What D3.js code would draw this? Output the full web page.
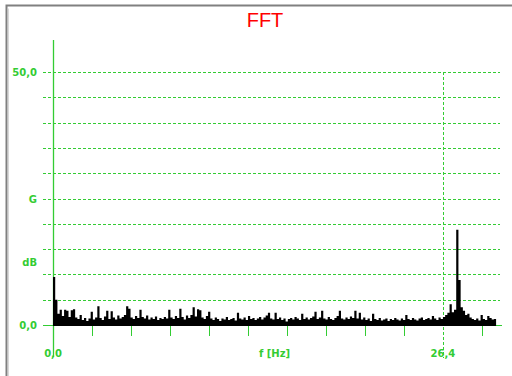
<!DOCTYPE html>
<html>
<head>
<meta charset="utf-8">
<script src="https://cdn.jsdelivr.net/npm/d3@7"></script>
<style>
  body { margin: 0; background: #fff; }
  svg { display: block; }
  .lbl { font-family: "DejaVu Sans", sans-serif; font-size: 10px; font-weight: bold; fill: #33cc33; }
</style>
</head>
<body>
<svg id="chart" width="512" height="376"></svg>
<script>
// spectrum, one value per 0.15 Hz bin, starting at 0 Hz
const binWidth = 0.15;
const amplitudes = [
  9.5, 5.0, 2.2, 3.0, 1.8, 3.0, 2.8, 1.6, 2.9, 3.1,
  1.5, 1.2, 2.0, 1.0, 1.4, 0.8, 1.3, 2.6, 1.1, 1.5,
  3.7, 1.4, 1.0, 1.7, 2.8, 1.2, 2.7, 1.5, 1.1, 1.9,
  1.3, 1.6, 2.0, 3.7, 3.2, 1.5, 1.2, 1.8, 1.4, 3.0,
  1.6, 1.3, 1.9, 1.1, 1.5, 1.2, 1.7, 1.0, 1.4, 1.2,
  1.6, 1.3, 3.0, 1.5, 1.2, 1.8, 1.4, 3.2, 1.6, 1.1,
  1.9, 1.4, 2.0, 3.5, 1.7, 3.1, 2.9, 1.5, 1.2, 1.8,
  2.6, 1.3, 1.0, 1.5, 1.2, 0.8, 1.3, 1.1, 1.6, 1.0,
  1.2, 1.4, 0.9, 2.4, 1.3, 1.1, 1.5, 1.0, 1.8, 1.2,
  1.4, 1.0, 1.3, 1.6, 1.1, 1.5, 1.9, 2.4, 1.3, 1.1,
  2.4, 1.2, 1.5, 1.0, 1.3, 0.7, 1.2, 1.4, 1.1, 1.6,
  1.3, 1.0, 2.2, 1.2, 1.5, 1.1, 1.4, 1.7, 2.6, 1.2,
  1.5, 2.8, 1.3, 1.1, 1.6, 1.2, 1.0, 1.4, 1.8, 2.8,
  1.3, 1.1, 1.5, 1.2, 1.7, 1.4, 2.8, 1.3, 2.4, 1.1,
  1.5, 1.0, 1.3, 0.8, 2.2, 1.2, 1.0, 1.4, 0.9, 1.1,
  1.3, 0.8, 1.2, 1.0, 1.4, 1.1, 0.9, 1.3, 1.0, 2.0,
  1.2, 1.0, 1.4, 1.1, 0.9, 1.3, 1.5, 1.0, 1.2, 1.4,
  1.1, 1.8, 1.3, 1.0, 1.5, 1.2, 1.6, 2.0, 2.4, 4.1,
  2.5, 3.0, 18.8, 8.9, 3.5, 2.8, 2.0, 2.2, 1.5, 1.2,
  1.0, 1.3, 0.9, 2.0, 1.2, 1.0, 1.8, 1.4, 1.1, 1.2,
  0.9
];
const gridValues = [5, 10, 15, 20, 25, 30, 35, 40, 45, 50];
const freqTicks = [0, 2.64, 5.28, 7.92, 10.56, 13.2, 15.84, 18.48, 21.12, 23.76, 26.4, 29.04];
const markerFreq = 26.4;
const yLabels = [{ text: '50,0', v: 50 }, { text: 'G', v: 25 }, { text: 'dB', v: 12.5 }, { text: '0,0', v: 0 }];

const green = '#33cc33';
const svg = d3.select('#chart');

const x = d3.scaleLinear().domain([0, 30.4]).range([53, 502]);
const y = d3.scaleLinear().domain([0, 50]).range([325, 72]);

// sunken frame
svg.append('path').attr('d', 'M6.5,376V5.5H512').attr('fill', 'none').attr('stroke', '#808080').attr('stroke-width', 2);
svg.append('path').attr('d', 'M8.5,376V8.5').attr('fill', 'none').attr('stroke', '#d8d8d8').attr('stroke-width', 1);

svg.append('text')
  .attr('x', 265).attr('y', 27)
  .attr('text-anchor', 'middle')
  .style('font-family', '"Liberation Sans", Arial, sans-serif')
  .style('font-size', '20px')
  .attr('fill', '#ff0000')
  .text('FFT');

// horizontal grid
svg.append('g').selectAll('line').data(gridValues).join('line')
  .attr('x1', 43).attr('x2', 500)
  .attr('y1', d => Math.round(y(d)) + 0.5).attr('y2', d => Math.round(y(d)) + 0.5)
  .attr('stroke', green).attr('stroke-dasharray', '3,2');

// marker line
svg.append('line')
  .attr('x1', Math.round(x(markerFreq)) + 0.5).attr('x2', Math.round(x(markerFreq)) + 0.5)
  .attr('y1', y(50)).attr('y2', 358)
  .attr('stroke', green).attr('stroke-dasharray', '3,2');

// axes
svg.append('line')
  .attr('x1', 43).attr('x2', 502).attr('y1', y(0) + 0.5).attr('y2', y(0) + 0.5)
  .attr('stroke', green);
svg.append('line')
  .attr('x1', x(0) + 0.5).attr('x2', x(0) + 0.5).attr('y1', 40).attr('y2', 357)
  .attr('stroke', green).attr('stroke-width', 1.3);
svg.append('g').selectAll('line').data(freqTicks.filter(f => f !== 0 && f !== markerFreq)).join('line')
  .attr('x1', d => Math.round(x(d)) + 0.5).attr('x2', d => Math.round(x(d)) + 0.5)
  .attr('y1', y(0)).attr('y2', y(0) + 11)
  .attr('stroke', green);

// spectrum
const bins = amplitudes.map((v, i) => ({ f: i * binWidth, v }));
const area = d3.area()
  .x(d => x(d.f))
  .y0(y(0) + 1)
  .y1(d => y(d.v))
  .curve(d3.curveStepAfter);
svg.append('path')
  .datum(bins)
  .attr('d', area)
  .attr('fill', '#000');

// labels
svg.append('g').selectAll('text').data(yLabels).join('text')
  .attr('class', 'lbl')
  .attr('x', 37).attr('y', d => y(d.v) + 4)
  .attr('text-anchor', 'end')
  .text(d => d.text);

const xLabels = [{ text: '0,0', f: 0 }, { text: 'f [Hz]', f: 15 }, { text: '26,4', f: markerFreq }];
svg.append('g').selectAll('text').data(xLabels).join('text')
  .attr('class', 'lbl')
  .attr('x', d => x(d.f)).attr('y', 357)
  .attr('text-anchor', 'middle')
  .text(d => d.text);
</script>
</body>
</html>
